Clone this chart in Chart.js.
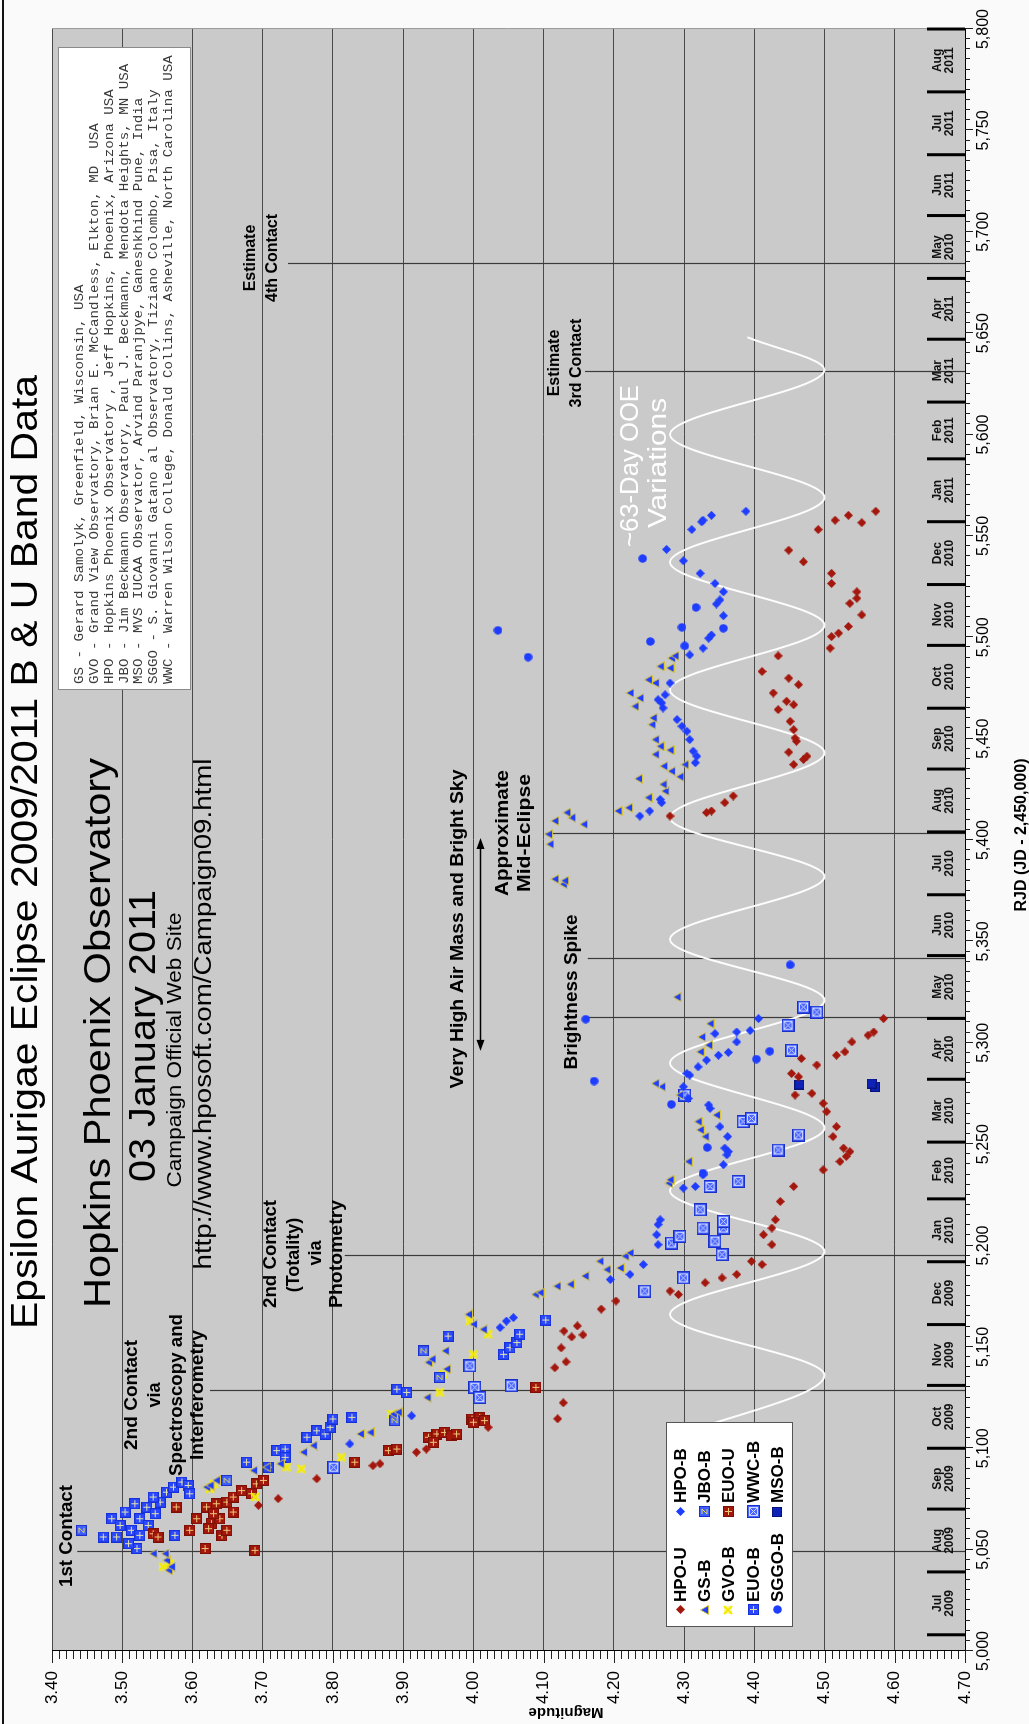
<!DOCTYPE html>
<html>
<head>
<meta charset="utf-8">
<title>Epsilon Aurigae Eclipse 2009/2011 B &amp; U Band Data</title>
<script src="https://cdn.jsdelivr.net/npm/chart.js@4.4.1/dist/chart.umd.min.js"></script>
<style>
  html, body { margin: 0; padding: 0; background: #fafafa; }
  body { width: 1029px; height: 1724px; overflow: hidden; position: relative; }
  /* the chart is laid out landscape and turned a quarter turn to read upward */
  #wrap { position: absolute; left: 0; top: 0; width: 1724px; height: 1029px;
          transform-origin: 0 0; transform: translate(0, 1724px) rotate(-90deg); }
  canvas { display: block; }
</style>
</head>
<body>
<div id="wrap"><canvas id="c" width="1724" height="1029"></canvas></div>
<script>
// ---------- data: [RJD, magnitude] ----------
const hpoU = [[5071.8,3.694],[5075.1,3.722],[5084.9,3.777],[5091.4,3.857],[5092.3,3.867],[5098.0,3.919],[5099.6,3.933],[5106.2,3.967],[5110.3,4.021],
  [5114.5,4.120],[5122.4,4.128],[5139.7,4.116],[5142.6,4.132],[5149.5,4.125],[5154.9,4.140],[5155.9,4.156],[5157.8,4.129],[5160.3,4.148],[5168.6,4.182],[5172.6,4.203],
  [5175.8,4.292],[5177.5,4.280],[5181.6,4.330],[5184.0,4.354],[5185.7,4.375],[5190.6,4.411],[5192.2,4.396],[5200.4,4.425],[5205.3,4.413],[5208.6,4.425],[5212.7,4.430],
  [5221.7,4.437],[5229.1,4.456],[5237.3,4.498],[5241.4,4.522],[5243.9,4.531],[5246.3,4.536],[5248.0,4.527],[5253.7,4.512],[5258.6,4.517],[5266.0,4.503],[5270.1,4.498],
  [5274.2,4.458],[5275.0,4.482],[5283.2,4.463],[5284.8,4.453],[5289.0,4.489],[5292.2,4.467],[5293.8,4.517],[5295.5,4.529],[5300.4,4.539],[5303.7,4.562],[5305.3,4.570],[5311.9,4.584],
  [5411.8,4.280],[5413.5,4.332],[5414.3,4.339],[5418.4,4.358],[5421.7,4.370],
  [5437.2,4.456],[5439.7,4.470],[5441.3,4.475],[5443.3,4.449],[5448.7,4.460],[5450.3,4.458],[5454.4,4.456],[5458.5,4.451],[5464.3,4.434],[5466.7,4.456],[5468.4,4.446],
  [5472.5,4.427],[5476.6,4.463],[5479.8,4.449],[5483.1,4.411],[5490.8,4.434],
  [5494.6,4.508],[5500.3,4.510],[5502.0,4.520],[5505.3,4.534],[5511.0,4.553],[5516.7,4.536],[5519.2,4.546],[5522.4,4.546],[5526.5,4.510],[5531.5,4.510],[5537.2,4.470],
  [5542.9,4.449],[5553.1,4.491],[5556.5,4.553],[5557.7,4.515],[5560.1,4.534],[5562.1,4.573]];

const hpoB = [[5102.1,3.824],[5116.0,3.912],[5159.5,4.038],[5162.7,4.047],[5164.4,4.057],
  [5183.2,4.195],[5185.7,4.223],[5190.6,4.242],[5200.4,4.263],[5205.3,4.261],[5210.3,4.263],[5212.7,4.266],[5228.3,4.299],[5229.1,4.316],[5234.8,4.327],[5239.8,4.356],
  [5244.7,4.361],[5246.3,4.363],[5248.0,4.358],[5253.7,4.362],[5258.6,4.351],[5267.6,4.337],[5269.3,4.335],[5272.5,4.306],[5278.3,4.299],[5284.0,4.308],[5284.8,4.304],
  [5288.1,4.320],[5291.4,4.332],[5293.8,4.349],[5295.2,4.363],[5300.4,4.375],[5304.5,4.344],[5305.3,4.375],[5306.0,4.394],[5311.9,4.406],
  [5411.8,4.237],[5414.3,4.251],[5418.4,4.268],[5420.0,4.266],[5438.1,4.316],[5441.3,4.318],[5443.8,4.313],[5449.5,4.308],[5453.6,4.304],[5456.1,4.297],[5459.4,4.290],
  [5465.1,4.270],[5467.6,4.268],[5469.2,4.263],[5471.6,4.273],[5477.4,4.280],[5491.3,4.308],[5494.6,4.327],[5499.5,4.335],[5501.1,4.339],[5510.6,4.356],[5516.4,4.346],
  [5518.4,4.351],[5522.4,4.356],[5526.5,4.344],[5531.5,4.323],[5537.7,4.299],[5543.3,4.275],[5553.1,4.311],[5556.9,4.325],[5557.7,4.327],[5560.1,4.339],[5562.1,4.388]];

const gsB = [[5039.8,3.566],[5041.5,3.570],[5044.7,3.563],[5048.0,3.561],[5048.0,3.544],[5080.8,3.620],[5081.6,3.625],[5084.1,3.634],[5089.0,3.687],[5090.6,3.706],
  [5092.3,3.725],[5098.0,3.758],[5101.3,3.772],[5107.0,3.839],[5107.8,3.853],[5116.8,3.886],[5117.7,3.893],[5125.0,3.934],[5139.0,3.962],[5142.3,3.936],[5143.9,3.941],
  [5148.0,3.960],[5158.6,4.014],[5161.1,4.000],[5166.0,3.993],
  [5175.8,4.088],[5176.7,4.095],[5179.9,4.119],[5180.8,4.138],[5184.9,4.159],[5188.1,4.190],[5188.9,4.209],[5192.2,4.180],[5194.7,4.216],[5196.3,4.223],[5230.7,4.278],
  [5232.4,4.280],[5241.4,4.306],[5253.7,4.330],[5257.0,4.323],[5261.1,4.320],[5264.3,4.346],[5274.2,4.294],[5278.3,4.268],[5279.9,4.259],[5295.5,4.323],[5298.8,4.335],
  [5302.8,4.325],[5309.4,4.337],[5322.5,4.290],
  [5378.2,4.128],[5379.9,4.130],[5380.7,4.116],[5397.9,4.109],[5402.8,4.107],[5407.7,4.157],[5409.4,4.116],[5411.0,4.140],[5413.5,4.133],[5414.3,4.206],[5415.9,4.221],
  [5420.9,4.249],[5424.1,4.273],[5427.4,4.270],[5430.2,4.235],[5431.2,4.294],[5433.9,4.282],[5436.4,4.271],[5437.2,4.301],[5442.2,4.259],[5444.3,4.280],[5446.2,4.266],
  [5449.5,4.259],[5456.9,4.254],[5460.2,4.256],[5465.9,4.230],[5470.0,4.237],[5472.5,4.223],[5477.4,4.259],[5479.0,4.249],[5484.8,4.280],[5485.6,4.266],[5489.7,4.282],[5490.8,4.287]];

const gvoB = [[5041.5,3.558],[5043.1,3.568],[5075.9,3.689],[5080.0,3.625],[5082.4,3.630],[5089.8,3.755],[5090.6,3.734],[5095.5,3.812],[5116.8,3.883],[5127.5,3.952],
  [5136.5,3.957],[5146.3,4.000],[5156.2,4.021],[5162.7,3.995]];

const euoU = [[5049.6,3.689],[5050.5,3.618],[5057.8,3.544],[5056.2,3.551],[5071.0,3.577],[5059.5,3.596],[5065.2,3.606],[5071.0,3.620],[5062.8,3.627],[5057.0,3.642],
  [5072.6,3.634],[5073.4,3.649],[5075.9,3.658],[5079.1,3.670],[5082.4,3.691],[5084.1,3.701],[5077.5,3.684],[5065.2,3.639],[5068.5,3.658],[5060.3,3.623],[5067.7,3.630],
  [5059.5,3.649],[5093.1,3.831],[5098.8,3.879],[5099.6,3.891],[5105.4,3.936],[5107.0,3.948],[5107.8,3.959],[5106.2,3.969],[5107.0,3.976],[5102.9,3.943],[5114.4,3.998],
  [5115.2,4.009],[5112.8,4.000],[5113.6,4.016],[5130.0,4.089]];

const euoB = [[5056.2,3.473],[5065.2,3.485],[5061.9,3.497],[5068.5,3.504],[5059.5,3.513],[5050.5,3.521],[5065.2,3.525],[5057.0,3.525],[5070.9,3.535],[5061.9,3.537],
  [5067.7,3.547],[5073.4,3.554],[5078.3,3.563],[5080.8,3.573],[5083.3,3.585],[5081.6,3.594],[5077.5,3.596],[5057.0,3.575],[5052.9,3.509],[5056.2,3.492],[5072.6,3.518],
  [5075.9,3.544],[5093.1,3.677],[5090.6,3.708],[5098.8,3.720],[5099.6,3.732],[5095.5,3.732],[5105.4,3.763],[5108.6,3.777],[5107.0,3.789],[5110.3,3.796],[5114.4,3.800],
  [5115.2,3.827],[5129.1,3.891],[5127.5,3.905],[5155.3,3.964],[5146.3,4.043],[5149.6,4.052],[5152.1,4.062],[5156.2,4.066],[5163.2,4.103]];

const wwcB = [[5090.6,3.801],[5140.6,3.995],[5130.0,4.002],[5125.0,4.009],[5130.8,4.054],[5177.5,4.244],[5184.0,4.299],[5195.5,4.354],[5201.2,4.282],[5202.1,4.344],
  [5204.5,4.294],[5208.6,4.327],[5208.6,4.356],[5211.9,4.356],[5217.6,4.323],[5229.1,4.337],[5231.6,4.377],[5247.1,4.434],[5254.5,4.463],[5261.1,4.384],[5262.7,4.396],
  [5274.2,4.301],[5296.3,4.453],[5308.6,4.448],[5315.1,4.489],[5317.6,4.470]];

const jboB = [[5059.5,3.442],[5084.1,3.649],[5113.6,3.888],[5134.9,3.952],[5148.0,3.929]];

const sggoB = [[5235.7,4.327],[5248.3,4.333],[5269.6,4.282],[5281.1,4.172],[5291.9,4.403],[5295.8,4.422],[5311.6,4.160],[5338.4,4.451],[5490.2,4.078],[5495.7,4.301],
  [5497.9,4.252],[5503.4,4.035],[5504.4,4.356],[5504.9,4.297],[5514.7,4.317],[5538.8,4.241]];

const msoB = [[5278.3,4.572],[5279.4,4.464],[5279.9,4.567]];

// out-of-eclipse cycle: turning points of the ~63-day variation
const oofRjd = [5105,5136,5166,5197,5227,5258,5290,5321,5351,5382,5411,5443,5474,5506,5537,5569,5600,5632,5648];
const oofMag = [4.28,4.50,4.28,4.50,4.28,4.50,4.28,4.50,4.28,4.50,4.28,4.50,4.28,4.50,4.28,4.50,4.28,4.50,4.39];

// axes
const rjdTicks = [5000,5050,5100,5150,5200,5250,5300,5350,5400,5450,5500,5550,5600,5650,5700,5750,5800];
const rjdTickLabels = ['5,000','5,050','5,100','5,150','5,200','5,250','5,300','5,350','5,400','5,450','5,500','5,550','5,600','5,650','5,700','5,750','5,800'];
const magTicks = [3.40,3.50,3.60,3.70,3.80,3.90,4.00,4.10,4.20,4.30,4.40,4.50,4.60,4.70];
const magTickLabels = ['3.40','3.50','3.60','3.70','3.80','3.90','4.00','4.10','4.20','4.30','4.40','4.50','4.60','4.70'];

// calendar band along the RJD axis
const monthEdges = [5008,5039,5070,5100,5131,5161,5192,5223,5251,5282,5312,5343,5373,5404,5435,5465,5496,5526,5557,5588,5616,5647,5677,5708,5738,5769,5800];
const monthLabels = ['Jul 2009','Aug 2009','Sep 2009','Oct 2009','Nov 2009','Dec 2009','Jan 2010','Feb 2010','Mar 2010','Apr 2010','May 2010','Jun 2010',
  'Jul 2010','Aug 2010','Sep 2010','Oct 2010','Nov 2010','Dec 2010','Jan 2011','Feb 2011','Mar 2011','Apr 2011','May 2010','Jun 2011','Jul 2011','Aug 2011'];

// event markers (RJD)
const eventRjd = [5049, 5128, 5195, 5312, 5341.5, 5403, 5631, 5684];
const airMassRjd = [5296, 5401];

const observers = [
  'GS - Gerard Samolyk, Greenfield, Wisconsin, USA',
  'GVO - Grand View Observatory, Brian E. McCandless, Elkton, MD  USA',
  'HPO - Hopkins Phoenix Observatory , Jeff Hopkins, Phoenix, Arizona USA',
  'JBO - Jim Beckmann Observatory, Paul J. Beckmann, Mendota Heights, MN USA',
  'MSO - MVS IUCAA Observator, Arvind Paranjpye, Ganeshkhind Pune, India',
  'SGGO - S. Giovanni Gatano al Observatory, Tiziano Colombo, Pisa, Italy',
  'WWC - Warren Wilson College, Donald Collins, Asheville, North Carolina USA'
];

// ---------- layout / styles ----------
const FONT = '"Liberation Sans", Arial, Helvetica, sans-serif';
const eventLineFromMag = [3.436, 3.625, 3.817, 4.163, 4.163, 4.102, 4.159, 3.736];

const RED = '#a3170d', BLUE = '#1e3dff', DBLUE = '#0f22b8';

function marker(w, h, draw) {
  const c = document.createElement('canvas');
  c.width = w; c.height = h;
  draw(c.getContext('2d'), w, h);
  return c;
}
const mkDiamond = col => marker(9, 9, g => {
  g.fillStyle = col; g.beginPath();
  g.moveTo(4.5, 0); g.lineTo(9, 4.5); g.lineTo(4.5, 9); g.lineTo(0, 4.5); g.closePath(); g.fill();
});
const mkPlusSquare = (fill, edge, cross) => marker(11, 11, g => {
  g.fillStyle = fill; g.fillRect(0, 0, 11, 11);
  g.strokeStyle = edge; g.lineWidth = 1; g.strokeRect(0.5, 0.5, 10, 10);
  g.strokeStyle = cross; g.beginPath();
  g.moveTo(5.5, 2); g.lineTo(5.5, 9); g.moveTo(2, 5.5); g.lineTo(9, 5.5); g.stroke();
});
const icons = {
  hpoU: mkDiamond(RED),
  hpoB: mkDiamond(BLUE),
  gsB: marker(10, 9, g => {
    g.fillStyle = BLUE; g.strokeStyle = '#d9c63c'; g.lineWidth = 1;
    g.beginPath(); g.moveTo(5, 0.5); g.lineTo(9.5, 8.5); g.lineTo(0.5, 8.5); g.closePath(); g.fill(); g.stroke();
  }),
  gvoB: marker(10, 10, g => {
    g.fillStyle = 'rgba(245,240,90,0.55)'; g.fillRect(1, 1, 8, 8);
    g.strokeStyle = '#f2ea00'; g.lineWidth = 2; g.beginPath();
    g.moveTo(1, 1); g.lineTo(9, 9); g.moveTo(9, 1); g.lineTo(1, 9); g.stroke();
  }),
  euoU: mkPlusSquare(RED, '#7d0f07', '#efc878'),
  euoB: mkPlusSquare('#2b48ff', '#1630d8', '#e4e4a8'),
  wwcB: marker(13, 13, g => {
    g.fillStyle = '#4a66ff'; g.fillRect(0, 0, 13, 13);
    g.strokeStyle = '#1a30c8'; g.lineWidth = 1; g.strokeRect(0.5, 0.5, 12, 12);
    g.strokeStyle = '#cdd6ff'; g.strokeRect(2.5, 2.5, 8, 8);
    g.beginPath(); g.moveTo(3, 3); g.lineTo(10, 10); g.moveTo(10, 3); g.lineTo(3, 10); g.stroke();
  }),
  jboB: marker(11, 11, g => {
    g.fillStyle = '#3f5eff'; g.fillRect(0, 0, 11, 11);
    g.strokeStyle = '#1a30c8'; g.lineWidth = 1; g.strokeRect(0.5, 0.5, 10, 10);
    g.strokeStyle = '#e8dc50'; g.beginPath();
    g.moveTo(3, 3); g.lineTo(8, 3); g.lineTo(3, 8); g.lineTo(8, 8); g.stroke();
  }),
  sggoB: marker(9, 9, g => { g.fillStyle = BLUE; g.beginPath(); g.arc(4.5, 4.5, 4.2, 0, Math.PI * 2); g.fill(); }),
  msoB: marker(10, 10, g => {
    g.fillStyle = DBLUE; g.fillRect(0, 0, 10, 10);
    g.strokeStyle = '#08127a'; g.lineWidth = 1; g.strokeRect(0.5, 0.5, 9, 9);
  })
};

const series = [
  { label: 'HPO-U', data: hpoU, icon: icons.hpoU },
  { label: 'HPO-B', data: hpoB, icon: icons.hpoB },
  { label: 'GS-B', data: gsB, icon: icons.gsB },
  { label: 'JBO-B', data: jboB, icon: icons.jboB },
  { label: 'GVO-B', data: gvoB, icon: icons.gvoB },
  { label: 'EUO-U', data: euoU, icon: icons.euoU },
  { label: 'EUO-B', data: euoB, icon: icons.euoB },
  { label: 'WWC-B', data: wwcB, icon: icons.wwcB },
  { label: 'SGGO-B', data: sggoB, icon: icons.sggoB },
  { label: 'MSO-B', data: msoB, icon: icons.msoB }
];

const datasets = series.map(s => ({
  label: s.label,
  data: s.data.map(p => ({ x: p[0], y: p[1] })),
  pointStyle: s.icon,
  pointRadius: 4,
  showLine: false
}));
datasets.push({
  type: 'line',
  label: '~63-Day OOE Variations',
  data: oofRjd.map((r, i) => ({ x: r, y: oofMag[i] })),
  borderColor: 'rgba(255,255,255,0.95)',
  borderWidth: 2,
  pointRadius: 0,
  fill: false,
  cubicInterpolationMode: 'monotone'
});

// ---------- drawing helpers ----------
function text(ctx, s, u, v, o) {
  ctx.save();
  ctx.font = (o.bold ? 'bold ' : '') + o.size + 'px ' + (o.family || FONT);
  ctx.fillStyle = o.color || '#000';
  ctx.textBaseline = 'middle';
  ctx.textAlign = o.align || 'center';
  const w = ctx.measureText(s).width;
  const sx = o.width ? o.width / w : (o.sx || 1);
  ctx.translate(u, v);
  if (o.rot) ctx.rotate(o.rot);
  ctx.scale(sx, 1);
  ctx.fillText(s, 0, 0);
  ctx.restore();
}

const notes = [
  { t: 'Epsilon Aurigae Eclipse 2009/2011 B & U Band Data', u: 872, v: 27, size: 36, width: 954 },
  { t: 'Hopkins Phoenix Observatory', u: 691, v: 100, size: 36, width: 550 },
  { t: '03 January 2011', u: 688, v: 145, size: 36, width: 292 },
  { t: 'Campaign Official Web Site', u: 674, v: 175, size: 21, width: 275 },
  { t: 'http://www.hposoft.com/Campaign09.html', u: 710, v: 205, size: 23, width: 511 },
  { t: '1st Contact', u: 188, v: 67, size: 18, bold: true, width: 102 },
  { t: '2nd Contact', u: 329, v: 132, size: 18, bold: true, width: 110 },
  { t: 'via', u: 329, v: 155, size: 18, bold: true },
  { t: 'Spectroscopy and', u: 329, v: 177, size: 18, bold: true, width: 162 },
  { t: 'Interferometry', u: 329, v: 198, size: 18, bold: true, width: 130 },
  { t: '2nd Contact', u: 470, v: 271, size: 18, bold: true, width: 108 },
  { t: '(Totality)', u: 469, v: 294, size: 18, bold: true },
  { t: 'via', u: 471, v: 316, size: 18, bold: true },
  { t: 'Photometry', u: 470, v: 337, size: 18, bold: true, width: 108 },
  { t: 'Very High Air Mass and Bright Sky', u: 795, v: 458, size: 18, bold: true, width: 319 },
  { t: 'Brightness Spike', u: 732, v: 572, size: 18, bold: true, width: 155 },
  { t: 'Approximate', u: 891, v: 503, size: 18, bold: true, width: 126 },
  { t: 'Mid-Eclipse', u: 891, v: 525, size: 18, bold: true, width: 118 },
  { t: 'Estimate', u: 1361, v: 555, size: 16, bold: true },
  { t: '3rd Contact', u: 1361, v: 577, size: 16, bold: true },
  { t: 'Estimate', u: 1466, v: 251, size: 16, bold: true },
  { t: '4th Contact', u: 1466, v: 273, size: 16, bold: true },
  { t: '~63-Day OOE', u: 1258, v: 631, size: 25, width: 162, color: '#ffffff' },
  { t: 'Variations', u: 1261, v: 659, size: 25, width: 130, color: '#ffffff' }
];

const decor = {
  id: 'decor',
  beforeDraw(chart) {
    const { ctx, chartArea: a } = chart;
    ctx.save();
    ctx.fillStyle = '#fafafa';
    ctx.fillRect(0, 0, chart.width, chart.height);
    ctx.fillStyle = '#cacaca';
    ctx.fillRect(a.left, a.top, a.right - a.left, a.bottom - a.top);
    ctx.fillStyle = '#111';
    ctx.fillRect(0, 2, chart.width, 2);
    ctx.restore();
  },
  beforeDatasetsDraw(chart) {
    const { ctx, chartArea: a, scales: { x, y } } = chart;
    ctx.save();
    // right edge of the plot
    ctx.strokeStyle = '#9a9a9a'; ctx.lineWidth = 1;
    ctx.beginPath(); ctx.moveTo(a.right + 0.5, a.top); ctx.lineTo(a.right + 0.5, a.bottom); ctx.stroke();
    // event lines
    ctx.strokeStyle = '#3a3a3a'; ctx.lineWidth = 1.2;
    eventRjd.forEach((r, i) => {
      const u = Math.round(x.getPixelForValue(r)) + 0.5;
      ctx.beginPath();
      ctx.moveTo(u, y.getPixelForValue(eventLineFromMag[i]));
      ctx.lineTo(u, a.bottom);
      ctx.stroke();
    });
    // calendar band
    ctx.fillStyle = '#000';
    monthEdges.forEach(r => {
      const u = x.getPixelForValue(r);
      ctx.fillRect(u - 1.5, 927, 3, a.bottom - 927);
    });
    monthLabels.forEach((lab, i) => {
      const u = x.getPixelForValue((monthEdges[i] + monthEdges[i + 1]) / 2);
      const parts = lab.split(' ');
      text(ctx, parts[0], u, 938, { size: 12, bold: true, color: '#111' });
      text(ctx, parts[1], u, 950, { size: 12, bold: true, color: '#111' });
    });
    // minor ticks
    ctx.strokeStyle = '#222'; ctx.lineWidth = 1;
    for (let r = 5000; r <= 5800; r += 5) {
      const u = Math.round(x.getPixelForValue(r)) + 0.5;
      const len = (r % 50 === 0) ? 8 : 5;
      ctx.beginPath(); ctx.moveTo(u, a.bottom); ctx.lineTo(u, a.bottom + len); ctx.stroke();
    }
    for (let k = 340; k <= 470; k++) {
      const v = Math.round(y.getPixelForValue(k / 100)) + 0.5;
      const len = (k % 10 === 0) ? 12 : 8;
      ctx.beginPath(); ctx.moveTo(a.left - len, v); ctx.lineTo(a.left, v); ctx.stroke();
    }
    ctx.restore();
  },
  afterDatasetsDraw(chart) {
    const { ctx, scales: { x } } = chart;
    notes.forEach(n => text(ctx, n.t, n.u, n.v, n));

    // double arrow for the high air mass period
    ctx.save();
    const u0 = x.getPixelForValue(airMassRjd[0]), u1 = x.getPixelForValue(airMassRjd[1]), va = 480.5;
    ctx.strokeStyle = '#000'; ctx.fillStyle = '#000'; ctx.lineWidth = 1.3;
    ctx.beginPath(); ctx.moveTo(u0 + 8, va); ctx.lineTo(u1 - 8, va); ctx.stroke();
    ctx.beginPath(); ctx.moveTo(u0, va); ctx.lineTo(u0 + 11, va - 4); ctx.lineTo(u0 + 11, va + 4); ctx.closePath(); ctx.fill();
    ctx.beginPath(); ctx.moveTo(u1, va); ctx.lineTo(u1 - 11, va - 4); ctx.lineTo(u1 - 11, va + 4); ctx.closePath(); ctx.fill();

    // observers box
    ctx.fillStyle = '#ffffff';
    ctx.fillRect(1034, 58, 642, 132);
    ctx.strokeStyle = '#8a8a8a'; ctx.lineWidth = 1;
    ctx.strokeRect(1034.5, 58.5, 642, 132);
    observers.forEach((line, i) => {
      text(ctx, line, 1040, 80 + i * 14.8, { size: 12, family: '"Liberation Mono", "DejaVu Sans Mono", monospace', align: 'left', sx: 1.18, color: '#3a3a3a' });
    });

    // legend
    ctx.fillStyle = '#ffffff';
    ctx.fillRect(97, 666, 204, 126);
    ctx.strokeStyle = '#555'; ctx.lineWidth = 1;
    ctx.strokeRect(97.5, 666.5, 204, 126);
    const leftCol = ['HPO-U', 'GS-B', 'GVO-B', 'EUO-B', 'SGGO-B'];
    const rightCol = ['HPO-B', 'JBO-B', 'EUO-U', 'WWC-B', 'MSO-B'];
    const rows = [680, 704, 728, 753, 777];
    const byLabel = {};
    series.forEach(s => { byLabel[s.label] = s.icon; });
    [[leftCol, 114, 122], [rightCol, 212, 221]].forEach(([col, mu, tu]) => {
      col.forEach((lab, i) => {
        const ic = byLabel[lab];
        ctx.drawImage(ic, Math.round(mu - ic.width / 2), Math.round(rows[i] - ic.height / 2));
        text(ctx, lab, tu, rows[i] + 1, { size: 17, bold: true, align: 'left' });
      });
    });

    // axis titles
    text(ctx, 'RJD (JD - 2,450,000)', 889, 1022, { size: 16, bold: true });
    text(ctx, 'Magnitude', 12, 566, { size: 15, bold: true, rot: -Math.PI / 2 });
    ctx.restore();
  }
};

Chart.defaults.font.family = FONT;
Chart.defaults.color = '#000';

new Chart(document.getElementById('c'), {
  type: 'scatter',
  data: { datasets },
  options: {
    responsive: false,
    animation: false,
    devicePixelRatio: 1,
    layout: { padding: { top: 52, right: 24, left: 0, bottom: 0 } },
    plugins: { legend: { display: false }, tooltip: { enabled: false } },
    scales: {
      x: {
        type: 'linear', position: 'bottom', min: 5000, max: 5800,
        afterBuildTicks: s => { s.ticks = rjdTicks.map(v => ({ value: v })); },
        afterFit: s => { s.height = 64; },
        grid: { drawOnChartArea: false, drawTicks: false },
        border: { display: true, color: '#000', width: 1 },
        ticks: { padding: 9, maxRotation: 0, autoSkip: false, font: { size: 16 },
                 callback: (v, i) => rjdTickLabels[i] }
      },
      y: {
        type: 'linear', position: 'left', min: 3.4, max: 4.7, reverse: true,
        afterBuildTicks: s => { s.ticks = magTicks.map(v => ({ value: v })); },
        afterFit: s => { s.width = 73; },
        grid: { color: '#4a4a4a', lineWidth: 1, drawTicks: false },
        border: { display: true, color: '#000', width: 1 },
        ticks: { padding: 20, autoSkip: false, font: { size: 17 },
                 callback: (v, i) => magTickLabels[i] }
      }
    }
  },
  plugins: [decor]
});
</script>
</body>
</html>
